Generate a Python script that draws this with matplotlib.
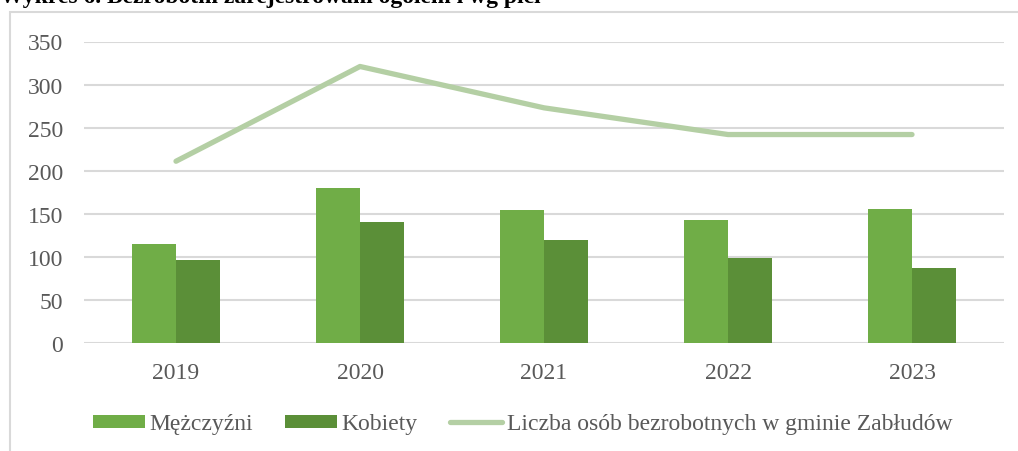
import matplotlib
matplotlib.use("Agg")
import matplotlib.pyplot as plt
from matplotlib.patches import Rectangle
import numpy as np

plt.rcParams['font.family'] = ['Liberation Serif', 'DejaVu Serif']

years = ["2019", "2020", "2021", "2022", "2023"]
men = [115, 180, 154, 143, 155]
women = [96, 141, 119, 99, 87]
total = [211, 321, 273, 242, 242]
yticks = [0, 50, 100, 150, 200, 250, 300, 350]

title = "Wykres 6. Bezrobotni zarejestrowani ogółem i wg płci"
labels = ["Mężczyźni", "Kobiety", "Liczba osób bezrobotnych w gminie Zabłudów"]

c_men = "#70ad47"
c_women = "#5b8f38"
c_line = "#b4cfa4"
c_grid = "#d9d9d9"
c_text = "#595959"

W, H = 1018, 452
fig = plt.figure(figsize=(W / 100, H / 100), dpi=100)
ax = fig.add_axes([84 / W, 1 - 344 / H, (1004 - 84) / W, (344 - 42.5) / H])

x = np.arange(len(years))
bw = 0.24
b1 = ax.bar(x - bw / 2, men, bw, color=c_men, label=labels[0], zorder=3)
b2 = ax.bar(x + bw / 2, women, bw, color=c_women, label=labels[1], zorder=3)
ln, = ax.plot(x, total, color=c_line, lw=3.8, solid_capstyle='round',
              solid_joinstyle='round', label=labels[2], zorder=4)

ax.set_xlim(-0.5, len(years) - 0.5)
ax.set_ylim(0, 350)
ax.set_yticks(yticks)
ax.set_xticks(x)
ax.set_xticklabels(years)
ax.yaxis.grid(True, color=c_grid, lw=1.5, zorder=0)
ax.set_axisbelow(True)
for s in ax.spines.values():
    s.set_visible(False)
ax.tick_params(axis='both', length=0, labelsize=17, colors=c_text)
ax.tick_params(axis='y', pad=15)
ax.tick_params(axis='x', pad=14)
for lbl in ax.get_xticklabels() + ax.get_yticklabels():
    lbl.set_color(c_text)

# chart frame
fig.patches.append(Rectangle((10 / W, -0.2), 1.2, 1.2 - 12.5 / H,
                             transform=fig.transFigure, fill=False,
                             edgecolor=c_grid, lw=1.5, clip_on=False))

fig.text(0, 1 - 3.0 / H, title, fontsize=17, fontweight='bold',
         color="#000000", va='baseline', ha='left')

leg = fig.legend(handles=[b1, b2, ln], labels=labels, loc='center left',
                 bbox_to_anchor=(93 / W, 1 - 425 / H), ncol=3, frameon=False,
                 fontsize=17, handlelength=2.2, handleheight=0.47,
                 handletextpad=0.2, columnspacing=1.35, borderpad=0,
                 borderaxespad=0, labelcolor=c_text)

fig.savefig("out.png", dpi=100)
